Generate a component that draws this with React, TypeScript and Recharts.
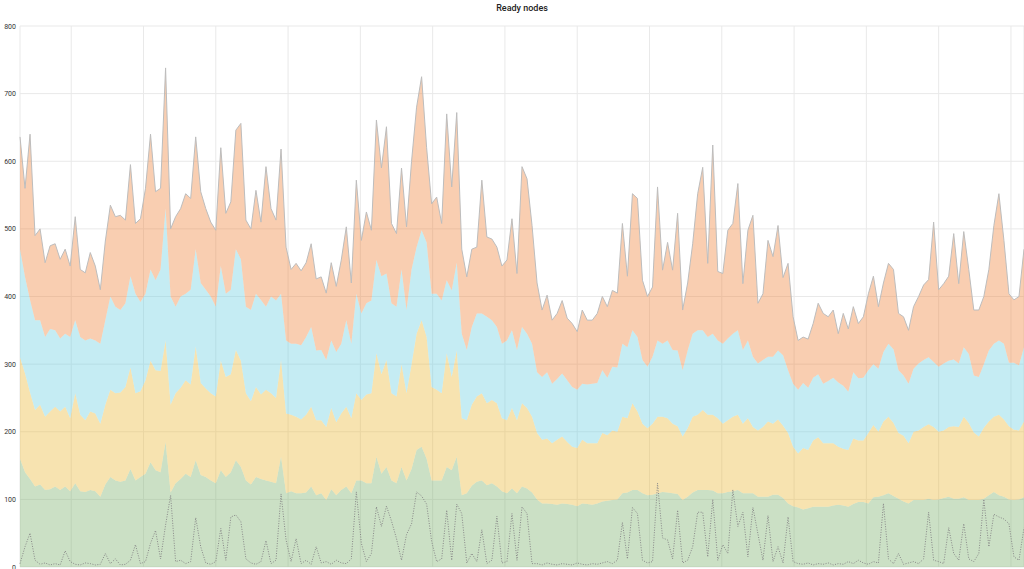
import React from 'react';
import { ComposedChart, Area, Line, XAxis, YAxis, CartesianGrid } from 'recharts';

// Cumulative (stacked) boundaries, one sample every ~5px
const greenTop = [160,140,130,119,122,114,115,119,114,119,112,124,112,111,114,112,104,122,133,128,126,128,145,128,133,138,155,143,140,185,110,124,130,138,133,158,136,133,128,124,143,133,140,158,148,128,122,133,130,128,126,124,163,109,112,109,109,110,119,106,109,99,115,106,114,119,109,128,128,124,124,163,138,148,128,124,148,128,145,173,178,160,128,128,128,148,143,163,106,109,120,126,128,121,124,119,112,109,116,109,119,116,110,100,94,94,93,92,94,93,92,90,94,93,92,94,97,98,99,100,109,110,114,114,109,106,107,109,111,110,109,108,99,104,110,114,114,114,113,109,109,111,112,114,109,109,109,104,104,104,107,107,102,94,90,88,85,87,89,89,89,89,91,92,91,89,93,96,96,94,103,104,106,109,105,101,97,94,99,99,99,101,99,100,102,104,101,101,103,99,99,99,101,106,111,106,104,100,99,100,103];
const yellowTop = [310,286,258,232,240,222,230,237,230,237,220,257,225,217,230,227,212,240,262,257,258,266,295,257,260,276,305,291,290,335,240,257,265,276,270,326,272,264,257,252,305,281,285,321,305,257,245,266,255,262,257,250,306,227,225,222,218,225,237,217,217,207,235,214,227,237,220,257,247,255,257,316,285,306,257,252,300,257,300,345,365,340,266,262,257,316,281,320,220,217,240,252,257,242,247,242,220,217,235,217,242,235,222,198,188,190,183,188,193,185,178,176,188,183,183,183,198,195,202,200,222,220,242,230,212,205,212,222,222,220,212,208,193,205,222,225,232,225,225,220,212,217,222,225,212,220,207,202,207,215,212,218,209,198,178,168,176,173,187,192,183,183,183,178,175,173,190,187,187,198,210,200,215,222,213,198,194,183,200,202,207,211,207,200,202,207,208,207,222,213,199,193,206,215,222,225,218,208,203,202,215];
const blueTop = [470,429,395,365,365,340,352,350,338,345,340,365,340,335,338,335,330,365,400,385,380,390,430,404,392,404,440,424,440,530,400,385,400,404,410,470,420,410,400,385,445,404,410,470,455,385,380,404,395,385,400,394,404,335,330,330,328,340,355,320,321,306,335,318,330,365,330,404,375,390,394,454,430,434,390,385,440,380,440,473,498,480,404,404,394,424,409,450,345,321,355,375,375,370,365,355,330,335,350,321,355,345,330,288,281,288,271,278,286,276,266,262,271,270,271,272,291,280,296,295,330,325,350,340,306,296,311,335,330,335,321,320,291,320,345,350,350,340,345,335,330,338,345,350,321,335,311,301,306,311,311,320,313,291,271,262,272,265,280,285,271,275,280,273,268,259,288,279,280,291,300,293,318,330,322,291,283,271,293,301,306,310,303,296,301,305,307,301,325,315,283,281,300,320,330,335,330,302,302,298,325];
const totalNodes = [636,560,640,490,500,450,475,478,455,470,445,518,440,435,465,445,410,482,535,518,520,513,595,508,515,560,640,555,560,738,500,518,530,552,545,636,555,530,510,498,620,523,540,646,656,513,500,557,510,592,530,513,618,473,440,449,438,450,478,426,429,405,450,415,454,503,420,572,483,525,498,661,590,651,508,493,590,503,600,680,725,620,537,547,508,670,562,672,470,429,470,473,572,488,485,473,445,454,515,434,592,574,505,420,380,402,365,375,394,368,360,348,380,365,365,375,400,385,409,405,508,430,552,545,424,400,414,562,439,480,439,523,380,420,478,552,591,449,624,437,434,498,508,567,419,498,520,390,404,483,459,505,428,449,370,335,340,337,360,390,375,370,380,345,375,352,385,360,370,404,430,385,420,449,440,375,370,350,385,400,417,425,510,410,419,430,493,419,496,440,380,380,400,440,505,552,483,404,395,400,470];
const notReady = [5,30,50,10,4,6,3,5,3,24,8,4,3,6,5,3,4,20,5,12,3,4,10,33,5,8,35,54,12,62,106,8,10,5,8,73,30,6,4,8,57,10,74,77,67,12,6,4,8,39,5,10,108,40,8,42,5,10,4,30,6,8,4,10,6,5,12,111,35,8,20,89,60,90,68,42,10,48,64,111,105,93,38,8,12,84,10,93,79,6,20,8,55,5,10,75,6,8,79,10,89,79,5,5,3,6,4,3,5,4,3,6,4,3,5,4,6,8,5,10,66,12,88,79,10,6,8,124,43,40,12,84,6,10,30,81,81,15,100,10,33,20,114,60,81,15,88,49,10,76,8,30,6,74,8,5,4,6,3,5,4,6,3,5,4,8,5,10,6,4,8,6,94,12,5,20,4,6,8,5,12,81,10,8,5,58,20,10,64,12,8,20,100,30,78,74,71,64,15,10,58];

const yTicks = [0, 100, 200, 300, 400, 500, 600, 700, 800];
const xGridTicks = [10.2, 24.6, 39, 53.4, 67.8, 82.2, 96.6, 111, 125.4, 139.8, 154.2, 168.6, 183, 197.4];

const data = totalNodes.map((t, i) => ({
  i,
  green: greenTop[i],
  yellow: Math.max(0, yellowTop[i] - greenTop[i]),
  blue: Math.max(0, blueTop[i] - yellowTop[i]),
  orange: Math.max(0, t - blueTop[i]),
  total: t,
  notReady: notReady[i],
}));

const FONT = 'Roboto, "Noto Sans", sans-serif';

const YTick = (props: any) => {
  const { x, y, payload } = props;
  return (
    <text x={x} y={y} dy={2.5} textAnchor="end" fontSize={7} fill="#333" fontFamily={FONT}>
      {payload.value}
    </text>
  );
};

export default function App() {
  return (
    <div style={{ position: 'absolute', left: 0, top: 0, width: 1024, height: 569, background: '#fff', fontFamily: FONT }}>
      <div style={{ position: 'absolute', top: 2, left: 20, width: 1004, textAlign: 'center', fontSize: 9, fontWeight: 500, color: '#222', lineHeight: '12px' }}>
        Ready nodes
      </div>
      <ComposedChart width={1024} height={569} data={data} margin={{ top: 26, right: 0, bottom: 2, left: 0 }}>
        <CartesianGrid stroke="#e9e9e9" />
        <XAxis dataKey="i" type="number" domain={[0, data.length - 1]} ticks={xGridTicks} hide />
        <YAxis
          width={20}
          domain={[0, 800]}
          ticks={yTicks}
          interval={0}
          tickLine={false}
          axisLine={false}
          tickSize={0}
          tickMargin={4}
          tick={<YTick />}
        />
        <Area type="linear" dataKey="green" stackId="s" stroke="none" fill="#7EB26D" fillOpacity={0.4} isAnimationActive={false} />
        <Area type="linear" dataKey="yellow" stackId="s" stroke="none" fill="#EAB839" fillOpacity={0.4} isAnimationActive={false} />
        <Area type="linear" dataKey="blue" stackId="s" stroke="none" fill="#6ED0E0" fillOpacity={0.4} isAnimationActive={false} />
        <Area type="linear" dataKey="orange" stackId="s" stroke="none" fill="#EF843C" fillOpacity={0.4} isAnimationActive={false} />
        <Line type="linear" dataKey="total" stroke="#bdbdbd" strokeWidth={1} dot={false} isAnimationActive={false} />
        <Line type="linear" dataKey="notReady" stroke="#888" strokeWidth={1} strokeDasharray="1 1.5" dot={false} isAnimationActive={false} />
      </ComposedChart>
    </div>
  );
}
